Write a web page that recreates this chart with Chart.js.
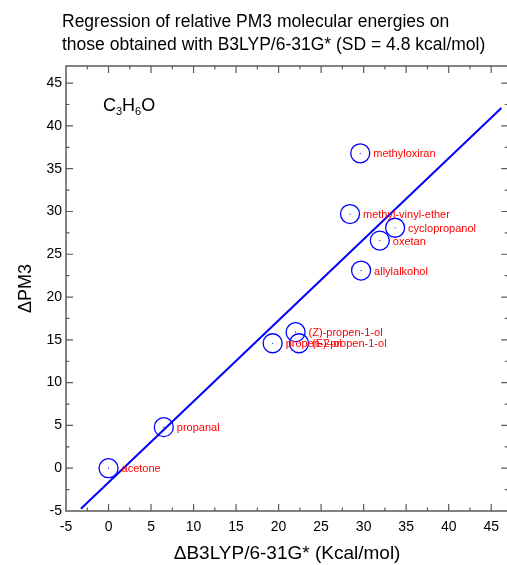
<!DOCTYPE html>
<html>
<head>
<meta charset="utf-8">
<script src="https://cdn.jsdelivr.net/npm/chart.js@4.4.0/dist/chart.umd.min.js"></script>
<style>
  html, body { margin:0; padding:0; background:#fff; overflow:hidden; }
  #wrap { width:507px; height:565px; overflow:hidden; position:relative; }
</style>
</head>
<body>
<div id="wrap"><canvas id="c" width="519" height="565"></canvas></div>
<script>
// data
var molecules = ['acetone','propanal','propen-2-ol','(Z)-propen-1-ol','(E)-propen-1-ol',
                 'methyl-vinyl-ether','cyclopropanol','oxetan','allylalkohol','methyloxiran'];
var dB3LYP = [0, 6.5, 19.3, 22.0, 22.4, 28.4, 33.7, 31.9, 29.7, 29.6];
var dPM3   = [0, 4.8, 14.6, 15.9, 14.6, 29.7, 28.1, 26.6, 23.1, 36.8];
// regression line end points
var fitX = [-3.25, 46.2];
var fitY = [-4.73, 42.1];

var titleLines = ['Regression of relative PM3 molecular energies on',
                  'those obtained with B3LYP/6-31G* (SD = 4.8 kcal/mol)'];

var pts = dB3LYP.map(function(x,i){ return {x:x, y:dPM3[i]}; });
var fit = fitX.map(function(x,i){ return {x:x, y:fitY[i]}; });

var FONT = 'Arial, "Liberation Sans", sans-serif';
var frameCol = '#5a5a5a';

//Title, labels, ticks and frame
var extras = {
  id:'extras',
  afterDraw: function(chart){
    var ctx = chart.ctx, a = chart.chartArea;
    var xs = chart.scales.x, ys = chart.scales.y;
    ctx.save();

    // title
    ctx.fillStyle = '#000';
    ctx.font = '17.5px ' + FONT;
    ctx.textAlign = 'left'; ctx.textBaseline = 'alphabetic';
    ctx.fillText(titleLines[0], 62, 27);
    ctx.fillText(titleLines[1], 62, 50);

    // C3H6O
    var x0 = a.left + 37, yb = a.top + 45;
    var parts = [['C',0],['3',1],['H',0],['6',1],['O',0]];
    for (var p=0;p<parts.length;p++){
      ctx.font = (parts[p][1] ? '11px ' : '18px ') + FONT;
      ctx.fillText(parts[p][0], x0, yb + (parts[p][1] ? 4 : 0));
      x0 += ctx.measureText(parts[p][0]).width;
    }

    // point labels
    ctx.fillStyle = '#ff0000';
    ctx.font = '11px ' + FONT;
    ctx.textBaseline = 'middle';
    var meta = chart.getDatasetMeta(1);
    for (var i=0;i<molecules.length;i++){
      var el = meta.data[i];
      ctx.fillText(molecules[i], el.x + 13, el.y + 1);
    }

    // frame
    ctx.strokeStyle = frameCol;
    ctx.lineWidth = 1.5;
    ctx.strokeRect(a.left, a.top, a.right - a.left, a.bottom - a.top);

    // inward ticks on all four sides
    ctx.lineWidth = 1.2;
    ctx.beginPath();
    for (var v=-5; v<=47; v+=2.5){
      var len = (v % 5 === 0) ? 7 : 3.5;
      var px = xs.getPixelForValue(v);
      if (px > a.left + 1 && px < a.right - 1){
        ctx.moveTo(px, a.bottom); ctx.lineTo(px, a.bottom - len);
        ctx.moveTo(px, a.top);    ctx.lineTo(px, a.top + len);
      }
      var py = ys.getPixelForValue(v);
      if (py > a.top + 1 && py < a.bottom - 1){
        ctx.moveTo(a.left, py);  ctx.lineTo(a.left + len, py);
        ctx.moveTo(a.right, py); ctx.lineTo(a.right - len, py);
      }
    }
    ctx.stroke();
    ctx.restore();
  }
};

new Chart(document.getElementById('c').getContext('2d'), {
  type:'scatter',
  data:{
    datasets:[
      { label:'fit', type:'line', data:fit, borderColor:'#0000ff', borderWidth:2,
        pointRadius:0, fill:false, tension:0 },
      { label:'molecules', data:pts, pointRadius:9.5, pointHoverRadius:9.5,
        pointBackgroundColor:'rgba(0,0,0,0)', pointBorderColor:'#0000ff', pointBorderWidth:1.3 },
      { label:'centres', data:pts, pointRadius:0.6, pointBackgroundColor:'#0000ff',
        pointBorderWidth:0 }
    ]
  },
  options:{
    responsive:false,
    animation:false,
    layout:{ padding:{ top:66, right:1.5, left:0, bottom:0 } },
    plugins:{ legend:{display:false}, tooltip:{enabled:false}, title:{display:false} },
    scales:{
      x:{
        type:'linear', min:-5, max:47,
        grid:{ display:false, drawTicks:false, tickLength:0 }, border:{ display:false },
        ticks:{ stepSize:5, includeBounds:false, color:'#000', padding:8,
                font:{ family:FONT, size:14 }, maxRotation:0 },
        title:{ display:true, text:'\u0394B3LYP/6-31G* (Kcal/mol)', color:'#000',
                font:{ family:FONT, size:19 }, padding:{ top:0, bottom:0 } },
        afterFit:function(s){ s.height = 54; s.paddingLeft = 0; s.paddingRight = 0; }
      },
      y:{
        type:'linear', min:-5, max:47,
        grid:{ display:false, drawTicks:false, tickLength:0 }, border:{ display:false },
        ticks:{ stepSize:5, includeBounds:false, color:'#000', padding:4,
                font:{ family:FONT, size:14 } },
        title:{ display:true, text:'\u0394PM3', color:'#000',
                font:{ family:FONT, size:18 }, padding:{ top:15, bottom:0 } },
        afterFit:function(s){ s.width = 66; s.paddingTop = 0; s.paddingBottom = 0; }
      }
    }
  },
  plugins:[extras]
});
</script>
</body>
</html>
